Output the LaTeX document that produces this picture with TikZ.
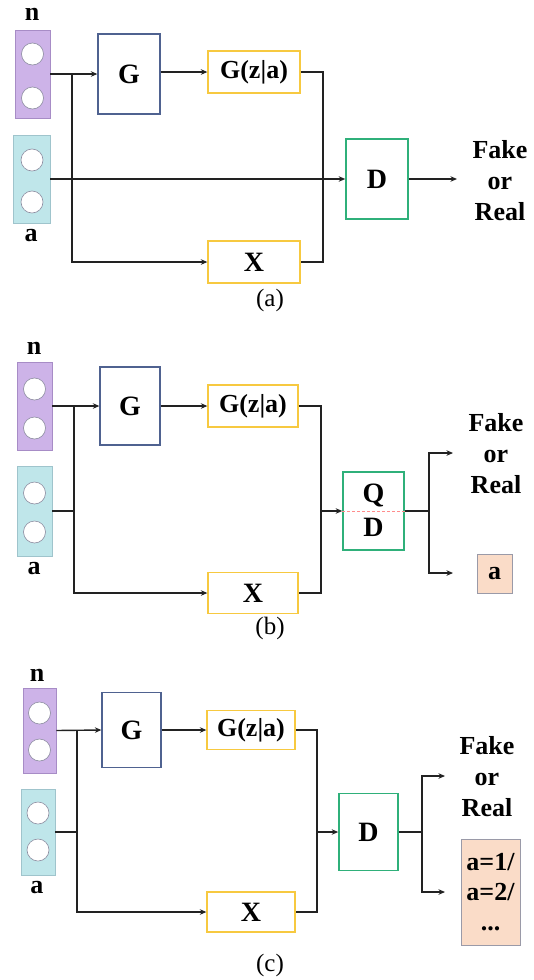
\documentclass[tikz,border=0pt]{standalone}
\usepackage{fontspec}
\setmainfont{Liberation Serif}
\usetikzlibrary{arrows.meta}
\definecolor{purpleF}{HTML}{CDB3E8}
\definecolor{purpleD}{HTML}{A78CC6}
\definecolor{cyanF}{HTML}{BFE6EA}
\definecolor{cyanD}{HTML}{9FC4CC}
\definecolor{circD}{HTML}{8C8CA0}
\definecolor{gBlue}{HTML}{4F6290}
\definecolor{yel}{HTML}{F7C940}
\definecolor{grn}{HTML}{2FB07A}
\definecolor{peach}{HTML}{FADCC8}
\definecolor{peachD}{HTML}{9A9AA8}
\definecolor{lineC}{HTML}{222222}
\tikzset{
  x=1pt,y=-1pt,
  lab/.style={font=\bfseries\fontsize{26}{31}\selectfont, inner sep=0pt},
  big/.style={font=\bfseries\fontsize{28}{31}\selectfont},
  pbox/.style={draw=purpleD, fill=purpleF, line width=0.8pt, inner sep=0pt},
  cbox/.style={draw=cyanD, fill=cyanF, line width=0.8pt, inner sep=0pt},
  circ/.style={circle, draw=circD, fill=white, minimum size=22pt, inner sep=0pt, line width=0.6pt},
  gbox/.style={lab, draw=gBlue, fill=white, line width=1.3pt},
  ybox/.style={lab, draw=yel, fill=white, line width=1.3pt},
  dbox/.style={lab, draw=grn, fill=white, line width=1.6pt},
  obox/.style={lab, draw=peachD, fill=peach, line width=0.8pt},
  conn/.style={draw=lineC, line width=1.4pt},
  arr/.style={conn, -{Stealth[length=6.5pt,width=5.5pt]}},
  capt/.style={font=\fontsize{25}{28}\selectfont, inner sep=0pt}
}
\begin{document}
\begin{tikzpicture}
\useasboundingbox (0,0) rectangle (534,980);
% ---------------- (a)
\node[pbox, minimum width=35pt, minimum height=88pt] (an) at (32.5,74) {};
\node[circ] (an1) at (32.5,54) {};
\node[circ] (an2) at (32.5,98) {};
\node[cbox, minimum width=37pt, minimum height=88pt] (aa) at (31.5,179) {};
\node[circ] (aa1) at (32,160) {};
\node[circ] (aa2) at (32,202) {};
\node[lab] (anl) at (32,14) {n};
\node[lab] (aal) at (31,236) {a};
\node[gbox, big, minimum width=62pt, minimum height=80pt] (aG) at (129,74) {G};
\node[ybox, minimum width=92pt, minimum height=42pt] (aGz) at (254,72) {G(z|a)};
\node[ybox, big, minimum width=92pt, minimum height=42pt] (aX) at (254,262) {X};
\node[dbox, big, minimum width=62pt, minimum height=80pt] (aD) at (377,179) {D};
\node[lab, align=center] (aF) at (500,181) {Fake\\or\\Real};
\node[capt] (acap) at (270,300) {(a)};
\coordinate (aB) at (72,74);
\coordinate (aM) at (323,179);
\coordinate (aO) at (457,179);
\draw[arr] (an.east) -- (aG.west);
\draw[arr] (aB) |- (aX.west);
\draw[arr] (aG.east |- aGz.west) -- (aGz.west);
\draw[conn] (aGz.east) -| (aM) |- (aX.east);
\draw[arr] (aa.east) -- (aD.west);
\draw[arr] (aD.east) -- (aO);
% ---------------- (b)
\node[pbox, minimum width=35pt, minimum height=88pt] (bn) at (34.5,406) {};
\node[circ] (bn1) at (34.5,389) {};
\node[circ] (bn2) at (34.5,428) {};
\node[cbox, minimum width=35pt, minimum height=90pt] (ba) at (34.5,511) {};
\node[circ] (ba1) at (34.5,493) {};
\node[circ] (ba2) at (34.5,532) {};
\node[lab] (bnl) at (34,348) {n};
\node[lab] (bal) at (34,569) {a};
\node[gbox, big, minimum width=60pt, minimum height=78pt] (bG) at (130,406) {G};
\node[ybox, minimum width=90pt, minimum height=42pt] (bGz) at (253,406) {G(z|a)};
\node[ybox, big, minimum width=90pt, minimum height=41pt] (bX) at (253,593) {X};
\node[dbox, minimum width=61pt, minimum height=78pt] (bD) at (373.5,511) {};
\draw[densely dashed, draw=red!45, line width=0.5pt] (bD.west) -- (bD.east);
\node[lab, big, inner sep=0pt] (bQl) at (373.5,495) {Q};
\node[lab, big, inner sep=0pt] (bDl) at (373.5,527) {D};
\node[lab, align=center] (bF) at (496,454) {Fake\\or\\Real};
\node[obox, minimum width=35pt, minimum height=39pt] (bA) at (494.5,573.5) {a};
\node[capt] (bcap) at (270,628) {(b)};
\coordinate (bB) at (74,406);
\coordinate (bM) at (321,511);
\coordinate (bS) at (429,511);
\coordinate (bO1) at (453,453);
\coordinate (bO2) at (453,573);
\draw[arr] (bn.east) -- (bG.west);
\draw[arr] (bB) |- (bX.west);
\draw[conn] (ba.east) -- (ba.east -| bB);
\draw[arr] (bG.east) -- (bGz.west);
\draw[conn] (bGz.east) -| (bM) |- (bX.east);
\draw[arr] (bM) -- (bD.west);
\draw[conn] (bD.east) -- (bS);
\draw[arr] (bS) |- (bO1);
\draw[arr] (bS) |- (bO2);
% ---------------- (c)
\node[pbox, minimum width=33pt, minimum height=85pt] (cn) at (39.5,730.5) {};
\node[circ] (cn1) at (39.5,713) {};
\node[circ] (cn2) at (39.5,750) {};
\node[cbox, minimum width=34pt, minimum height=86pt] (ca) at (38,832) {};
\node[circ] (ca1) at (38,813) {};
\node[circ] (ca2) at (38,850) {};
\node[lab] (cnl) at (37,675) {n};
\node[lab] (cal) at (37,888) {a};
\node[gbox, big, minimum width=59pt, minimum height=75pt] (cG) at (131.5,730) {G};
\node[ybox, minimum width=88pt, minimum height=39pt] (cGz) at (251,730) {G(z|a)};
\node[ybox, big, minimum width=88pt, minimum height=40pt] (cX) at (251,912) {X};
\node[dbox, big, minimum width=59pt, minimum height=77pt] (cD) at (368.5,832) {D};
\node[lab, align=center] (cF) at (487,777) {Fake\\or\\Real};
\node[obox, minimum width=59pt, minimum height=106pt, align=center, font=\bfseries\fontsize{26}{30}\selectfont] (cA) at (490.5,892) {a=1/\\a=2/\\...};
\node[capt] (ccap) at (270,965) {(c)};
\coordinate (cB) at (77,730);
\coordinate (cM) at (317,832);
\coordinate (cS) at (422,832);
\coordinate (cO1) at (445,776);
\coordinate (cO2) at (445,892);
\draw[arr] (cn.east) -- (cG.west);
\draw[arr] (cB) |- (cX.west);
\draw[conn] (ca.east) -- (ca.east -| cB);
\draw[arr] (cG.east) -- (cGz.west);
\draw[conn] (cGz.east) -| (cM) |- (cX.east);
\draw[arr] (cM) -- (cD.west);
\draw[conn] (cD.east) -- (cS);
\draw[arr] (cS) |- (cO1);
\draw[arr] (cS) |- (cO2);
\end{tikzpicture}
\end{document}
